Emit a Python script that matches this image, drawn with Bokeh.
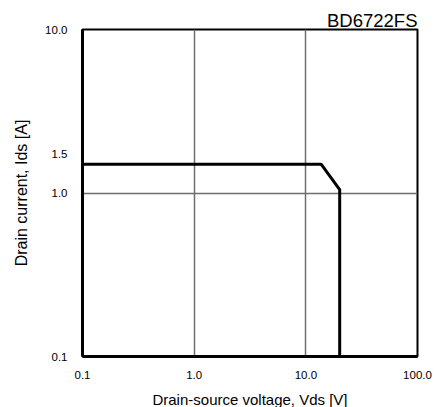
from bokeh.plotting import figure
from bokeh.models import FixedTicker
from bokeh.embed import file_html
from bokeh.resources import INLINE

# Safe operating area boundary
vds = [0.1, 13.7, 20.1, 20.1]
ids = [1.5, 1.5, 1.05, 0.1]

xtick_values = [0.1, 1.0, 10.0, 100.0]
xtick_labels = ["0.1", "1.0", "10.0", "100.0"]
ytick_values = [0.1, 1.0, 1.74, 10.0]
ytick_labels = ["0.1", "1.0", "1.5", "10.0"]
xgrid_values = [1.0, 10.0]
ygrid_values = [1.0]

title_text = "BD6722FS"
x_label = "Drain-source voltage, Vds [V]"
y_label = "Drain current, Ids [A]"

FONT = "Liberation Sans"

p = figure(x_axis_type="log", y_axis_type="log",
           x_range=(0.1, 100), y_range=(0.1, 10),
           frame_width=335, frame_height=327,
           min_border_left=82, min_border_right=29,
           min_border_top=29, min_border_bottom=50,
           output_backend="svg", toolbar_location=None,
           background_fill_color="white", border_fill_color="white")

p.outline_line_color = "black"
p.outline_line_width = 2

# title at top right
p.title.text = title_text
p.title.align = "right"
p.title.text_font = FONT
p.title.text_font_size = "18.5px"
p.title.text_font_style = "normal"
p.title.text_color = "black"
p.title.standoff = -2

# grids
p.xgrid.ticker = FixedTicker(ticks=xgrid_values)
p.ygrid.ticker = FixedTicker(ticks=ygrid_values)
for g in (p.xgrid, p.ygrid):
    g.grid_line_color = "#6e6e6e"
    g.grid_line_width = 1.5
    g.grid_line_alpha = 1.0
p.xgrid.minor_grid_line_color = None
p.ygrid.minor_grid_line_color = None

# axes
p.xaxis.ticker = FixedTicker(ticks=xtick_values)
p.yaxis.ticker = FixedTicker(ticks=ytick_values)
p.xaxis.major_label_overrides = {v: l for v, l in zip(xtick_values, xtick_labels)}
p.yaxis.major_label_overrides = {v: l for v, l in zip(ytick_values, ytick_labels)}

for ax in (p.xaxis[0], p.yaxis[0]):
    ax.axis_line_color = "black"
    ax.axis_line_width = 3
    ax.major_tick_line_color = None
    ax.minor_tick_line_color = None
    ax.major_tick_out = 0
    ax.major_tick_in = 0
    ax.minor_tick_out = 0
    ax.minor_tick_in = 0
    ax.major_label_text_font = FONT
    ax.major_label_text_font_size = "11.5px"
    ax.major_label_text_color = "black"
    ax.axis_label_text_font = FONT
    ax.axis_label_text_font_style = "normal"
    ax.axis_label_text_color = "black"

p.xaxis.axis_label = x_label
p.yaxis.axis_label = y_label
p.xaxis.axis_label_text_font_size = "15px"
p.yaxis.axis_label_text_font_size = "16px"
p.xaxis.major_label_standoff = 14
p.xaxis.axis_label_standoff = 9
p.yaxis.major_label_standoff = 15
p.yaxis.axis_label_standoff = 12

# boundary line
p.line(vds, ids, line_color="black", line_width=3)

open("out.html", "w").write(file_html(p, INLINE))
